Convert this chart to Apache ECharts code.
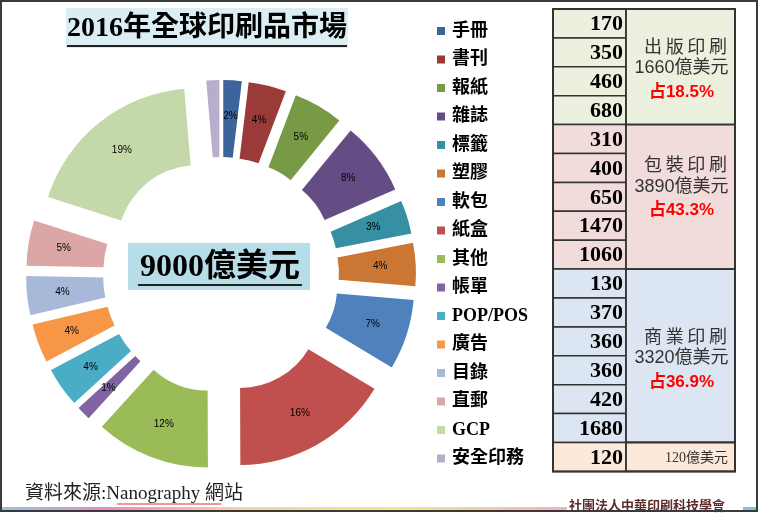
<!DOCTYPE html>
<html><head><meta charset="utf-8">
<script src="https://cdn.jsdelivr.net/npm/echarts@6/dist/echarts.min.js"></script>
<style>html,body{margin:0;padding:0;background:#fff}#c{width:761px;height:513px}</style>
</head><body><div id="c"></div>
<script>
// ---- data ----
const categories = ['手冊','書刊','報紙','雜誌','標籤','塑膠','軟包','紙盒','其他','帳單','POP/POS','廣告','目錄','直郵','GCP','安全印務'];
const values = [170,350,460,680,310,400,650,1470,1060,130,370,360,360,420,1680,120];
const groupNames = ['出版印刷','包裝印刷','商業印刷',''];
const groupSizes = [4,5,6,1];
const chartTitle = '2016年全球印刷品市場';
const centerLabel = '9000億美元';
const unit = '億美元';
const sourceText = '資料來源:Nanography 網站';
const footerText = '社團法人中華印刷科技學會';

// ---- styles ----
const colors = ['#3D659C','#9A3B39','#789A45','#644C85','#368FA3','#CB7632','#4F81BD','#C0504D','#9BBB59','#8064A2','#4BACC6','#F79646','#A7B8D9','#DAA7A6','#C5D8A9','#B8ADCB'];
const groupBg = ['#EBF1DE','#F2DCDB','#DCE6F2','#FDE9D9'];
const SERIF = '"Liberation Serif","Noto Sans CJK TC",serif';
const SANS = '"Liberation Sans","Noto Sans CJK TC",sans-serif';

const total = values.reduce((a,b)=>a+b,0);

const chart = echarts.init(document.getElementById('c'), null, {renderer:'canvas'});

const graphics = [];
// frame
graphics.push({type:'rect', shape:{x:1,y:1,width:756,height:510}, style:{fill:'none', stroke:'#3a3a3a', lineWidth:2}, z:10});
// title
graphics.push({type:'rect', shape:{x:66,y:8,width:282,height:40}, style:{fill:'#DAEEF3'}});
graphics.push({type:'text', x:207, y:29, style:{text:chartTitle, font:'bold 28px '+SERIF, fill:'#000', align:'center', verticalAlign:'middle', textAlign:'center', textVerticalAlign:'middle'}});
graphics.push({type:'line', shape:{x1:67,y1:46,x2:347,y2:46}, style:{stroke:'#222', lineWidth:2}});
// center label
graphics.push({type:'rect', shape:{x:128,y:243,width:182,height:47}, style:{fill:'#B7DEE8'}, z:5});
graphics.push({type:'text', x:220, y:268, z:6, style:{text:centerLabel, font:'bold 32px '+SERIF, fill:'#000', align:'center', verticalAlign:'middle', textAlign:'center', textVerticalAlign:'middle'}});
graphics.push({type:'line', z:6, shape:{x1:138,y1:285,x2:302,y2:285}, style:{stroke:'#222', lineWidth:2}});

// table
const tx0 = 553, tx1 = 626, tx2 = 735, ty0 = 9, rowH = 28.9;
const labelYOffsets = [59, 62, 89, 0];
let r = 0, vi = 0;
groupSizes.forEach((n, g) => {
  const gy = ty0 + r*rowH;
  let gsum = 0;
  for (let k=0;k<n;k++){
    const y = ty0 + (r+k)*rowH;
    const v = values[vi+k];
    gsum += v;
    graphics.push({type:'rect', shape:{x:tx0,y:y,width:tx1-tx0,height:rowH}, style:{fill:groupBg[g], stroke:'#333', lineWidth:1.5}});
    graphics.push({type:'text', x:tx1-3, y:y+rowH/2+1, z:3, style:{text:String(v), font:'bold 22px '+SERIF, fill:'#000', align:'right', verticalAlign:'middle', textAlign:'right', textVerticalAlign:'middle'}});
  }
  graphics.push({type:'rect', shape:{x:tx1,y:gy,width:tx2-tx1,height:n*rowH}, style:{fill:groupBg[g], stroke:'#333', lineWidth:1.8}});
  const cx = (tx1+tx2)/2 + 1;
  if (groupNames[g]) {
    const my = gy + labelYOffsets[g];
    graphics.push({type:'text', x:cx+4, y:my-20, z:3, style:{text:groupNames[g].split('').join('\u2009'), font:'18px '+SERIF, fill:'#333', align:'center', verticalAlign:'middle', textAlign:'center', textVerticalAlign:'middle'}});
    graphics.push({type:'text', x:cx, y:my, z:3, style:{text:gsum+unit, font:'18px '+SANS, fill:'#333', align:'center', verticalAlign:'middle', textAlign:'center', textVerticalAlign:'middle'}});
    graphics.push({type:'text', x:cx, y:my+24, z:3, style:{text:'占'+(gsum/total*100).toFixed(1)+'%', font:'bold 17px '+SANS, fill:'#FF0000', align:'center', verticalAlign:'middle', textAlign:'center', textVerticalAlign:'middle'}});
  } else {
    graphics.push({type:'text', x:cx+15, y:gy+rowH/2+1, z:3, style:{text:gsum+unit, font:'14px '+SERIF, fill:'#333', align:'center', verticalAlign:'middle', textAlign:'center', textVerticalAlign:'middle'}});
  }
  r += n; vi += n;
});
// outer border
graphics.push({type:'rect', z:4, shape:{x:tx0,y:ty0,width:tx2-tx0,height:r*rowH}, style:{fill:'none', stroke:'#333', lineWidth:2}});

// source
graphics.push({type:'text', x:25, y:494, style:{text:sourceText, font:'19px '+SERIF, fill:'#222', align:'left', verticalAlign:'middle', textAlign:'left', textVerticalAlign:'middle'}});
const wave = [];
for (let x=117; x<=222; x+=2) wave.push([x, 503 + ((x/2)%2 ? 1 : -1)]);
graphics.push({type:'polyline', shape:{points:wave}, style:{stroke:'#E03030', lineWidth:1, fill:null}});
// footer line
graphics.push({type:'rect', shape:{x:2,y:507,width:565,height:3}, style:{fill:{type:'linear',x:0,y:0,x2:1,y2:0,colorStops:[
  {offset:0,color:'#8EC8EA'},{offset:0.18,color:'#E889C6'},{offset:0.42,color:'#F8D0A4'},{offset:0.7,color:'#F9E38C'},{offset:1,color:'#F3B2C0'}]}}});
graphics.push({type:'text', x:647, y:507, style:{text:footerText, font:'bold 13px '+SERIF, fill:'#5E2A2A', align:'center', verticalAlign:'middle', textAlign:'center', textVerticalAlign:'middle'}});
graphics.push({type:'rect', shape:{x:743,y:507,width:14,height:3}, style:{fill:'#7EC3E6'}});

const pieData = categories.map((n,i)=>({name:n, value:values[i], selected:true, itemStyle:{color:colors[i]}, select:{itemStyle:{color:colors[i], borderWidth:0}}}));

chart.setOption({
  animation:false,
  backgroundColor:'#fff',
  legend:{
    orient:'vertical', left:437, top:21, padding:0,
    icon:'rect', itemWidth:8, itemHeight:8, itemGap:8.5,
    selectedMode:false,
    textStyle:{fontFamily:SERIF, fontSize:18, fontWeight:'bold', color:'#000', lineHeight:20, padding:[0,0,0,2]},
    data:categories
  },
  series:[{
    type:'pie',
    center:[221,275],
    radius:[80,157],
    startAngle:90,
    clockwise:true,
    selectedMode:'multiple',
    selectedOffset:38,
    avoidLabelOverlap:false,
    emphasis:{disabled:true},
    label:{show:true, position:'inside', fontSize:10, fontFamily:'"Liberation Sans",sans-serif', color:'#000',
      formatter:p=>Math.round(p.value/total*100)+'%'},
    labelLine:{show:false},
    data:pieData
  }],
  graphic:{elements:graphics}
});
</script></body></html>
